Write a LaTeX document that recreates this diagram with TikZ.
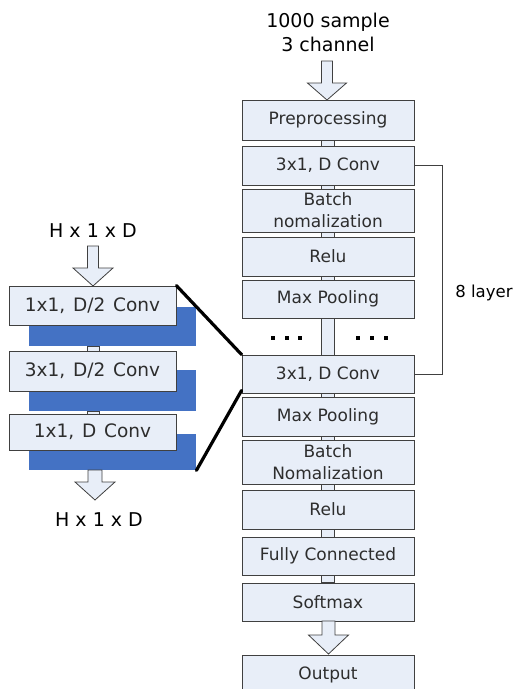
\documentclass[tikz,border=0pt]{standalone}
\usepackage{fontspec}
\setmainfont{DejaVu Sans}
\usetikzlibrary{calc,backgrounds}
\definecolor{boxfill}{RGB}{232,238,248}
\definecolor{boxline}{RGB}{64,64,64}
\definecolor{boxtext}{RGB}{45,45,45}
\definecolor{shadowblue}{RGB}{68,114,196}
\newcommand{\DownBlock}[6]{%
  \draw[blockarrow] (#1-#5,#2) -- (#1+#5,#2) -- (#1+#5,#3) -- (#1+#6,#3) -- (#1,#4) -- (#1-#6,#3) -- (#1-#5,#3) -- cycle;}
\newcommand{\WideWords}{\spaceskip=0.42em\relax}
\begin{document}
\begin{tikzpicture}[x=1pt,y=-1pt,
  blk/.style={draw=boxline, fill=boxfill, line width=0.8pt, minimum width=172pt, inner sep=0pt,
    text=boxtext, font=\fontsize{17}{22}\selectfont, align=center},
  lblk/.style={blk, minimum width=167pt, font=\fontsize{18.5}{22}\selectfont},
  barfill/.style={draw=boxline, fill=boxfill, line width=0.8pt},
  blockarrow/.style={draw=boxline, fill=boxfill, line width=0.8pt, line join=miter},
  shadebox/.style={fill=shadowblue, draw=none, inner sep=0pt, minimum width=167pt, anchor=north west},
  lbl/.style={font=\fontsize{19}{24}\selectfont, align=center, inner sep=0pt},
  thick line/.style={line width=3.2pt, line cap=round},
]
\useasboundingbox (0,0) rectangle (514,689);

% right column
\node[blk, minimum height=40pt] (pre) at (328,120) {Preprocessing};
\node[blk, minimum height=39pt] (c1) at (328,165.5) {3x1, D Conv};
\node[blk, minimum height=43pt] (bn1) at (328,210.5) {Batch\\nomalization};
\node[blk, minimum height=39pt] (relu1) at (328,256.5) {Relu};
\node[blk, minimum height=38pt] (mp1) at (328,299) {Max Pooling};
\node[blk, minimum height=38pt] (c2) at (328,374) {3x1, D Conv};
\node[blk, minimum height=39pt] (mp2) at (328,416.5) {Max Pooling};
\node[blk, minimum height=44pt] (bn2) at (328,462) {Batch\\Nomalization};
\node[blk, minimum height=39pt] (relu2) at (328,509.5) {Relu};
\node[blk, minimum height=38pt] (fc) at (328,556) {Fully Connected};
\node[blk, minimum height=38pt] (sm) at (328,602) {Softmax};
\node[blk, minimum height=40pt] (out) at (328,675) {Output};

\begin{scope}[on background layer]
  \draw[barfill] ($(pre.south)+(-6.5,0)$) rectangle ($(sm.north)+(6.5,0)$);
\end{scope}

\node[lbl] (inp) at (328,32) {1000 sample\\3 channel};
\DownBlock{327}{61}{83}{100}{5.5}{19.5}
\DownBlock{328.5}{621}{635}{654}{6.5}{20}

% dots
\foreach \x in {273,287,300,358,372,386} \fill (\x-2.2,335.8) rectangle (\x+2.2,340.2);

% feedback loop
\draw[boxline, line width=0.8pt] (c1.east) -- ++(28,0) |- (c2.east);
\node[font=\fontsize{16.5}{20}\selectfont, inner sep=0pt] (lay) at (484,293) {8 layer};

% left column
\node[lblk, minimum height=39pt] (l1) at (92.5,305.5) {\WideWords 1x1, D/2 Conv};
\node[lblk, minimum height=40pt] (l2) at (92.5,371) {\WideWords 3x1, D/2 Conv};
\node[lblk, minimum height=36pt] (l3) at (92.5,432) {\WideWords 1x1, D Conv};
\begin{scope}[on background layer]
  \node[shadebox, minimum height=39pt] (b1) at (29,307) {};
  \node[shadebox, minimum height=41pt] (b2) at (29,370) {};
  \node[shadebox, minimum height=36pt] (b3) at (29,434) {};
  \draw[barfill] (87,346) rectangle (99,351);
  \draw[barfill] (87,411) rectangle (99,414);
\end{scope}
\node[lbl] (htop) at (93,231) {H x 1 x D};
\node[lbl] (hbot) at (99,520) {H x 1 x D};
\DownBlock{93}{246}{268}{286}{5.5}{20}
\DownBlock{95}{470}{482}{500}{7}{20}

% zoom lines
\draw[thick line] (l1.north east) -- (c2.north west);
\draw[thick line] (b3.south east) -- ($(c2.south west)+(0,-3)$);
\end{tikzpicture}
\end{document}
